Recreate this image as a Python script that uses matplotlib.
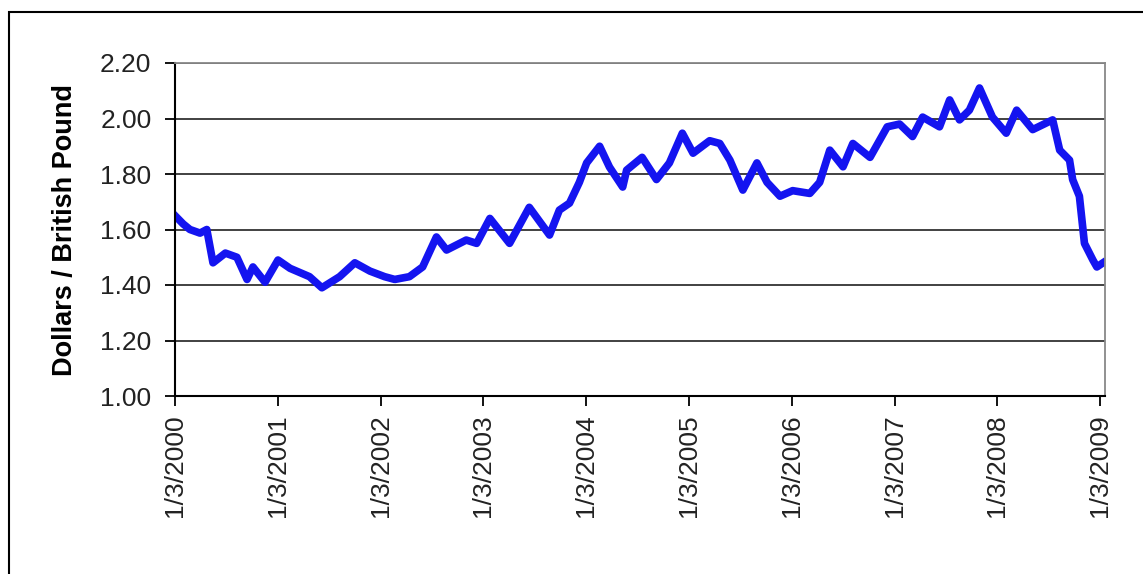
import numpy as np
import matplotlib
matplotlib.use("Agg")
from matplotlib import pyplot as plt
from matplotlib.patches import Rectangle

# USD / GBP exchange rate
dates = ["2000-01-03", "2000-02-01", "2000-02-25", "2000-04-01", "2000-04-25",
         "2000-05-17", "2000-06-30", "2000-08-10", "2000-09-15", "2000-10-06",
         "2000-11-18", "2001-01-03", "2001-02-15", "2001-04-25", "2001-06-08",
         "2001-08-10", "2001-10-03", "2001-11-26", "2002-01-17", "2002-02-22",
         "2002-04-15", "2002-06-01", "2002-07-20", "2002-08-25", "2002-11-03",
         "2002-12-10", "2003-01-26", "2003-04-06", "2003-06-15", "2003-08-26",
         "2003-09-30", "2003-11-05", "2003-12-10", "2004-01-05", "2004-02-20",
         "2004-03-26", "2004-05-12", "2004-05-26", "2004-07-20", "2004-09-09",
         "2004-10-25", "2004-12-10", "2005-01-17", "2005-03-17", "2005-04-22",
         "2005-05-28", "2005-07-13", "2005-09-01", "2005-10-07", "2005-11-22",
         "2006-01-06", "2006-03-08", "2006-04-12", "2006-05-18", "2006-07-04",
         "2006-08-08", "2006-10-08", "2006-12-08", "2007-01-21", "2007-03-08",
         "2007-04-13", "2007-06-12", "2007-07-18", "2007-08-22", "2007-09-26",
         "2007-11-01", "2007-12-17", "2008-02-04", "2008-03-12", "2008-05-08",
         "2008-07-18", "2008-08-12", "2008-09-16", "2008-09-27", "2008-10-21",
         "2008-11-08", "2008-12-08", "2008-12-22", "2009-01-13"]
rates = [1.65, 1.62, 1.60, 1.587, 1.60,
         1.48, 1.515, 1.50, 1.42, 1.465,
         1.41, 1.49, 1.46, 1.43, 1.39,
         1.43, 1.48, 1.45, 1.43, 1.42,
         1.43, 1.465, 1.573, 1.526, 1.562,
         1.55, 1.64, 1.55, 1.68, 1.58,
         1.67, 1.695, 1.77, 1.84, 1.90,
         1.825, 1.753, 1.814, 1.86, 1.78,
         1.84, 1.947, 1.875, 1.92, 1.91,
         1.85, 1.742, 1.84, 1.77, 1.72,
         1.74, 1.73, 1.77, 1.886, 1.826,
         1.91, 1.86, 1.97, 1.98, 1.935,
         2.005, 1.97, 2.067, 1.995, 2.03,
         2.11, 2.005, 1.947, 2.03, 1.96,
         1.995, 1.886, 1.85, 1.78, 1.72,
         1.55, 1.49, 1.465, 1.48]

tick_dates = ["%d-01-03" % y for y in range(2000, 2010)]
tick_labels = ["1/3/%d" % y for y in range(2000, 2010)]
y_ticks = [1.00, 1.20, 1.40, 1.60, 1.80, 2.00, 2.20]

plt.rcParams['font.family'] = ['Liberation Sans', 'DejaVu Sans']

fig = plt.figure(figsize=(11.43, 5.74), dpi=100)
fig.patches.append(Rectangle((9/1143, -0.1), 1.2, 1.1 - 12/574, transform=fig.transFigure,
                             fill=False, edgecolor='black', linewidth=1.5))

ax = fig.add_axes([175/1143, 1 - 396/574, 930/1143, 333/574])

x = [np.datetime64(d) for d in dates]
ax.plot(x, rates, color='#1414f0', linewidth=5.5, solid_joinstyle='round')

ax.set_ylim(1.0, 2.2)
ax.set_yticks(y_ticks)
ax.set_yticklabels(["%.2f" % v for v in y_ticks], fontsize=19, color='#222222')
ax.set_xlim(np.datetime64("2000-01-03"), np.datetime64("2009-01-20"))
ax.set_xticks([np.datetime64(d) for d in tick_dates])
ax.set_xticklabels(tick_labels, rotation=90, fontsize=19, color='#222222')

ax.yaxis.grid(True, color='#333333', linewidth=1.3)
ax.set_axisbelow(True)
ax.tick_params(axis='both', direction='out', length=7, width=1.3, color='black')
ax.tick_params(axis='x', pad=6)
ax.tick_params(axis='y', pad=10)

for s in ['left', 'bottom']:
    ax.spines[s].set_color('black')
    ax.spines[s].set_linewidth(1.5)
for s in ['top', 'right']:
    ax.spines[s].set_color('#888888')
    ax.spines[s].set_linewidth(1.3)

ax.set_ylabel("Dollars / British Pound", fontsize=19.5, fontweight='bold', labelpad=16)

fig.savefig("out.png", dpi=100)
